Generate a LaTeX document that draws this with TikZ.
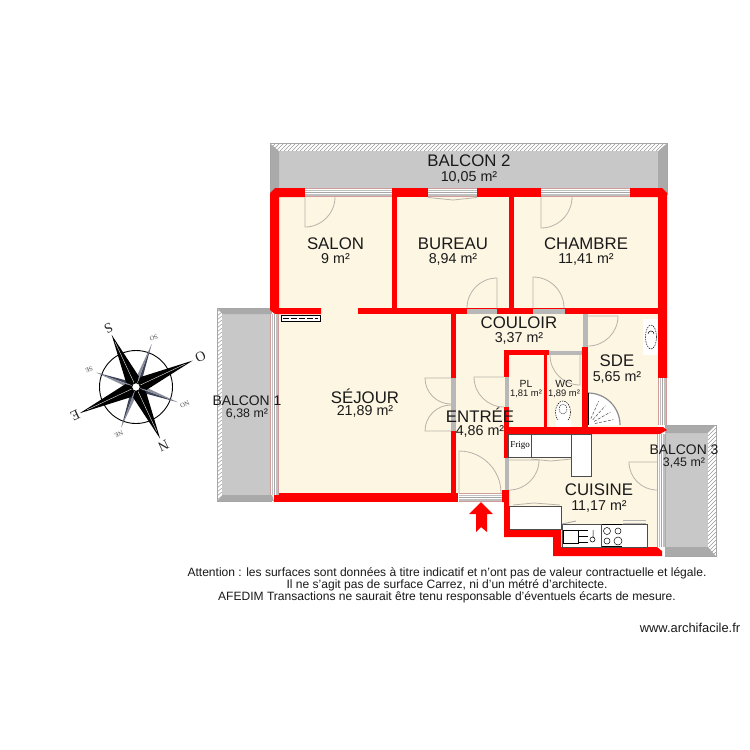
\documentclass[tikz,border=0pt]{standalone}
\usepackage{fontspec}
\setmainfont{Liberation Sans}
\newfontfamily\frigofont{Liberation Serif}
\definecolor{wallred}{HTML}{FF0000}
\definecolor{cream}{HTML}{FDF6E3}
\definecolor{balcony}{HTML}{C8C8C8}
\definecolor{balconyedge}{HTML}{AAAAAA}
\definecolor{doorgrey}{HTML}{B8B2AA}
\definecolor{winpink}{HTML}{D09C9C}
\definecolor{slate}{HTML}{3C4258}
\definecolor{textcol}{HTML}{1A1A1A}
\tikzset{
  wall/.style={fill=wallred,draw=none},
  floorpart/.style={fill=cream,draw=none},
  doorline/.style={draw=doorgrey,line width=0.8pt},
  fixture/.style={fill=white,draw=black!70,line width=0.7pt},
  roomname/.style={font=\fontsize{16.8}{18}\selectfont,text=textcol,inner sep=0pt,anchor=center},
  roomarea/.style={font=\fontsize{14.3}{16}\selectfont,text=textcol,inner sep=0pt,anchor=center},
  smallname/.style={font=\fontsize{10.4}{12}\selectfont,text=textcol,inner sep=0pt,anchor=center},
  smallarea/.style={font=\fontsize{9.4}{11}\selectfont,text=textcol,inner sep=0pt,anchor=center},
  balname/.style={font=\fontsize{13.9}{16}\selectfont,text=textcol,inner sep=0pt,anchor=center},
  balarea/.style={font=\fontsize{12.4}{14}\selectfont,text=textcol,inner sep=0pt,anchor=center},
  notetext/.style={font=\fontsize{12.05}{12}\selectfont,text=textcol,inner sep=0pt,anchor=center},
  webtext/.style={font=\fontsize{12.9}{13}\selectfont,text=textcol,inner sep=0pt,anchor=center},
  compassmain/.style={font=\frigofont\fontsize{14}{14}\selectfont,inner sep=0pt,rotate=-155,text=black!85},
  compasssmall/.style={font=\frigofont\fontsize{6.5}{7}\selectfont,inner sep=0pt,rotate=-155,text=black!70},
}
\newcommand{\winH}[3]{% x1 x2 ytop, 9 high
  \fill[white] (#1,#3) rectangle (#2,#3+9);
  \fill[black!25] (#1,#3+1.5) rectangle (#2,#3+3.2);
  \fill[black!25] (#1,#3+5.8) rectangle (#2,#3+7.5);
  \draw[winpink,line width=0.8pt] (#1,#3+0.4) -- (#2,#3+0.4) (#1,#3+8.6) -- (#2,#3+8.6);
  \draw[black!35,line width=0.5pt] (#1,#3+4.5) -- (#2,#3+4.5);
}
\newcommand{\winV}[3]{% x ytop ybottom
  \fill[white] (#1,#2) rectangle (#1+9,#3);
  \fill[black!25] (#1+1.5,#2) rectangle (#1+3.2,#3);
  \fill[black!25] (#1+5.8,#2) rectangle (#1+7.5,#3);
  \draw[winpink,line width=0.8pt] (#1+0.4,#2) -- (#1+0.4,#3) (#1+8.6,#2) -- (#1+8.6,#3);
  \draw[black!35,line width=0.5pt] (#1+4.5,#2) -- (#1+4.5,#3);
}
\newcommand{\swing}[5]{% hx hy r start end
  \draw[doorline] (#1,#2) -- +(#4:#3) arc[start angle=#4,end angle=#5,radius=#3];
}
\begin{document}
\begin{tikzpicture}[x=1pt,y=-1pt]
\useasboundingbox (0,0) rectangle (750,750);
\fill[white] (0,0) rectangle (750,750);

% ---- balconies
% Balcon 2
\fill[balcony] (270,143) rectangle (667,190);
\fill[balconyedge] (270,143) -- (279,151) -- (279,188) -- (270,195) -- cycle;
\fill[balconyedge] (667,143) -- (658,151) -- (658,188) -- (667,195) -- cycle;
\begin{scope}
  \clip (270,143) -- (667,143) -- (658,151) -- (279,151) -- cycle;
  \fill[white] (270,143) rectangle (667,151);
  \foreach \i in {0,...,100} \draw[black!40,line width=0.5pt] (268+\i*4,151) -- (276+\i*4,143);
\end{scope}
\draw[black!35,line width=0.6pt] (270,195) -- (270,143) -- (667,143) -- (667,195);
% Balcon 1
\fill[balcony] (217,308) rectangle (272,501);
\fill[balconyedge] (217,308) -- (272,308) -- (272,314) -- (222,314) -- cycle;
\fill[balconyedge] (217,501) -- (274,501) -- (272,495) -- (222,495) -- cycle;
\begin{scope}
  \clip (217,308) -- (222,314) -- (222,495) -- (217,501) -- cycle;
  \fill[white] (217,308) rectangle (222,501);
  \foreach \i in {0,...,50} \draw[black!40,line width=0.5pt] (217,312+\i*4) -- (222,308+\i*4);
\end{scope}
\draw[black!35,line width=0.6pt] (272,308) -- (217,308) -- (217,501) -- (272,501);
% Balcon 3
\fill[balcony] (665,425) rectangle (716,556);
\fill[balconyedge] (665,425) -- (716,425) -- (708,433) -- (665,433) -- cycle;
\fill[balconyedge] (665,556) -- (716,556) -- (708,547) -- (665,547) -- cycle;
\begin{scope}
  \clip (716,425) -- (708,433) -- (708,547) -- (716,556) -- cycle;
  \fill[white] (708,425) rectangle (716,556);
  \foreach \i in {0,...,35} \draw[black!40,line width=0.5pt] (708,428+\i*4) -- (716,420+\i*4);
\end{scope}
\draw[black!35,line width=0.6pt] (665,425) -- (716,425) -- (716,556) -- (665,556);

% ---- floors
\fill[floorpart] (279,197) rectangle (658,314);
\fill[floorpart] (278,314) rectangle (658,428);
\fill[floorpart] (278,428) rectangle (505,494);
\fill[floorpart] (509,434) rectangle (657,530);
\fill[floorpart] (560,530) rectangle (657,547);

% ---- outer and inner walls
\fill[wall] (275,188) -- (305,188) -- (305,197) -- (279,197) -- (279,308) -- (321,308) -- (321,314) -- (275,314) -- (270,310) -- (270,193) -- cycle;
\fill[wall] (392,188) rectangle (428,197);
\fill[wall] (477,188) rectangle (541,197);
\fill[wall] (630,188) -- (662,188) -- (667,193) -- (667,378) -- (658,378) -- (658,197) -- (630,197) -- cycle;
\fill[wall] (392,197) rectangle (397,308);
\fill[wall] (509,197) rectangle (514,308);
\fill[wall] (358,308) rectangle (667,314);
\fill[wall] (451,314) rectangle (456,378);
\fill[wall] (451,431) rectangle (456,493);
\fill[wall] (274,493) rectangle (458,502);
\fill[wall] (505,350) rectangle (549,355);
\fill[wall] (582,347) rectangle (588,427);
\fill[wall] (504,350) rectangle (509,377);
\fill[wall] (504,407) rectangle (509,458);
\fill[wall] (544,355) rectangle (547,427);
\fill[wall] (504,427) -- (663,427) -- (667,430) -- (660,434) -- (504,434) -- cycle;
\fill[wall] (502,490) -- (509,490) -- (509,530) -- (561,530) -- (561,547) -- (657,547) -- (662,551) -- (662,556) -- (553,556) -- (553,537) -- (504,537) -- (504,502) -- (502,502) -- cycle;

% ---- windows and door bays
\winH{305}{392}{188}
\winH{428}{477}{188}
\winH{541}{630}{188}
\winH{459}{502}{493}
\winV{270}{314}{495}
\winV{657}{434}{547}
\winV{658}{378}{425}
\fill[black!28] (467,308.5) rectangle (497,313.5);
\fill[black!28] (533,308.5) rectangle (565,313.5);
\fill[black!28] (549,350.5) rectangle (582,355);
\fill[black!28] (583,314) rectangle (588,347);
\fill[black!28] (451,378) rectangle (456,431);
\fill[black!28] (504.5,377) rectangle (509,407);
\fill[black!28] (504.5,458) rectangle (509,490);

% ---- door swings
\swing{305}{197}{30}{90}{0}
\swing{541}{197}{31}{90}{0}
\swing{497}{308}{30}{270}{180}
\swing{533}{308}{31}{270}{360}
\swing{451}{378}{26}{180}{90}
\swing{451}{431}{26}{180}{270}
\swing{504}{377}{30}{180}{90}
\swing{588}{316}{30}{0}{90}
\swing{580}{355}{30}{90}{180}
\swing{459}{493}{42}{270}{360}
\swing{509}{460}{30}{0}{90}
\swing{657}{462}{28}{180}{90}
\draw[doorline] (428,197.5) -- (453,200) -- (477,197.5);

% ---- radiator
\draw[fill=white,draw=black,line width=0.6pt] (281,315) rectangle (320,321);
\draw[black,line width=0.9pt,dash pattern=on 6pt off 2pt] (283,318) -- (318,318);

% ---- bathroom fixtures
\fill[white] (643,319) rectangle (658,355);
\draw[black,line width=0.5pt,dash pattern=on 1.5pt off 1pt] (651,337) ellipse (5.5 and 12);
\draw[black,line width=0.5pt] (648,334) arc[start angle=180,end angle=360,radius=3];
% stairs
\fill[white] (588,425) -- (620,425) arc[start angle=0,end angle=-90,radius=32] -- cycle;
\draw[black!45,line width=1.2pt] (620,425) arc[start angle=0,end angle=-90,radius=32];
\draw[black,line width=1pt] (588,393) -- (588,425);
\foreach \a in {-12,-30,-48,-66} \draw[black!70,line width=0.5pt,dash pattern=on 3pt off 1.5pt] (588,425) ++(\a:7) -- ++(\a:19);
% toilet
\draw[black,fill=white,line width=0.5pt,dash pattern=on 1.5pt off 1pt] (563,412) ellipse (7.5 and 11);
\fill[white] (556,420) rectangle (571,427);
\draw[black,line width=0.4pt,dash pattern=on 1.5pt off 1pt] (563,409) ellipse (4 and 5);

% ---- kitchen fixtures
\draw[fixture] (508.5,434) rectangle (531,457);
\draw[fixture] (531,434) rectangle (571,457);
\draw[fixture] (571,434) rectangle (591,476);
\draw[doorline] (531,459) -- (551,461) -- (571,459);
\draw[fixture] (509,506) rectangle (561,529);
\draw[doorline] (513,505) -- (534,503) -- (560,505);
\draw[fixture] (562,524) rectangle (601,547);
\draw[fixture] (601,524) rectangle (647,547);
\draw[black!30,line width=0.9pt] (623,520) -- (646,520) (623,523) -- (646,523);
\draw[black!35,line width=0.9pt] (562,524) -- (576,521);
\draw[black,line width=0.5pt] (563.5,530) rectangle (578,543);
\draw[black,line width=0.5pt] (578,530) -- (588,530) (578,536) -- (588,536) (578,542) -- (588,542);
\draw[black,line width=0.5pt] (593,530) -- (593,538) (592.5,539.5) circle (2.5);
\draw[black,line width=0.5pt] (607,531) circle (3.5) (618,531) circle (3) (607,541) circle (3) (618,541) circle (4);
\draw[black,line width=1.3pt] (602,524.5) -- (622,524.5) (602,546.5) -- (622,546.5);

% ---- entrance arrow
\fill[wallred] (481,502) -- (493,514) -- (487,514) -- (487,532) -- (481,527) -- (476,532) -- (476,514) -- (469,514) -- cycle;

% ---- compass
\begin{scope}[shift={(136,387)}]
  \draw[black,line width=0.9pt] (0,0) circle (36.5);
  \foreach \a/\r in {20/44,110/43,200/42,290/45.5}{
    \fill[slate] (0,0) -- (\a+35:6) -- (\a:\r) -- cycle;
    \fill[slate!60] (0,0) -- (\a-35:6) -- (\a:\r) -- cycle;
  }
  \foreach \a/\r in {65/57,155/62,245/57.5,335/62.5}{
    \fill[black] (0,0) -- (\a+40:11) -- (\a:\r) -- (\a-40:11) -- cycle;
    \draw[white,line width=0.35pt] (\a:5) -- (\a:\r-8);
  }
  \draw[fill=white,draw=black,line width=0.7pt] (0,0) circle (4.2);
  \node[compassmain] (lblS) at (245:65) {S};
  \node[compassmain] (lblO) at (335:71) {O};
  \node[compassmain] (lblN) at (65:65) {N};
  \node[compassmain] (lblE) at (155:67) {E};
  \node[compasssmall] (lblSO) at (290:52) {SO};
  \node[compasssmall] (lblNO) at (20:52) {NO};
  \node[compasssmall] (lblNE) at (110:50) {NE};
  \node[compasssmall] (lblSE) at (200:50) {SE};
\end{scope}

% ---- labels
\node[roomname] (n1) at (469,161) {BALCON 2};
\node[roomarea] (a1) at (469,177) {10,05 m²};
\node[roomname] (n2) at (335.5,244) {SALON};
\node[roomarea] (a2) at (335.5,259) {9 m²};
\node[roomname] (n3) at (453,244) {BUREAU};
\node[roomarea] (a3) at (453,259) {8,94 m²};
\node[roomname] (n4) at (586,244) {CHAMBRE};
\node[roomarea] (a4) at (586,259) {11,41 m²};
\node[roomname] (n5) at (519,323) {COULOIR};
\node[roomarea] (a5) at (519,338) {3,37 m²};
\node[roomname] (n6) at (617,361) {SDE};
\node[roomarea] (a6) at (617,377) {5,65 m²};
\node[smallname] (n7) at (526,384) {PL};
\node[smallarea] (a7) at (526,394) {1,81 m²};
\node[smallname] (n8) at (564,384) {WC};
\node[smallarea] (a8) at (564,394) {1,89 m²};
\node[roomname] (n9) at (365,396) {SÉJOUR};
\node[roomarea] (a9) at (365,411) {21,89 m²};
\node[roomname] (n10) at (480,415) {ENTRÉE};
\node[roomarea] (a10) at (480,431) {4,86 m²};
\node[roomname] (n11) at (599,490) {CUISINE};
\node[roomarea] (a11) at (599,506) {11,17 m²};
\node[balname] (n12) at (247,401) {BALCON 1};
\node[balarea] (a12) at (247,414) {6,38 m²};
\node[balname] (n13) at (684,450) {BALCON 3};
\node[balarea] (a13) at (684,463) {3,45 m²};
\node[inner sep=0pt,font=\frigofont\fontsize{9}{10}\selectfont] (frigo) at (520,445.5) {Frigo};

\node[notetext] (note1) at (447,573) {Attention : les surfaces sont données à titre indicatif et n’ont pas de valeur contractuelle et légale.};
\node[notetext] (note2) at (447,585) {Il ne s’agit pas de surface Carrez, ni d’un métré d’architecte.};
\node[notetext] (note3) at (447,597) {AFEDIM Transactions ne saurait être tenu responsable d’éventuels écarts de mesure.};
\node[webtext] (web) at (690,628) {www.archifacile.fr};
\end{tikzpicture}
\end{document}
